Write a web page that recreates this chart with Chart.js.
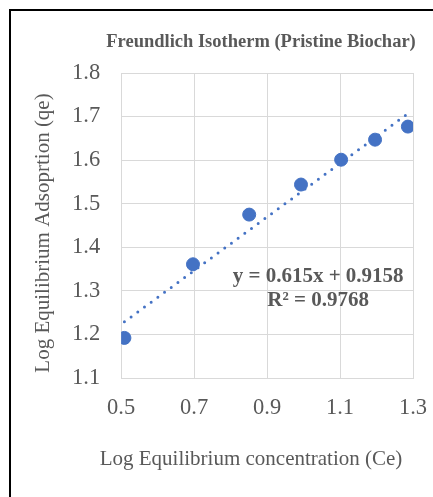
<!DOCTYPE html>
<html>
<head>
<meta charset="utf-8">
<script src="https://cdn.jsdelivr.net/npm/chart.js@4"></script>
<style>
  html, body { margin: 0; padding: 0; background: #fff; }
  #wrap { position: relative; width: 433px; height: 497px; overflow: hidden; }
  #frame { position: absolute; left: 9px; top: 9px; width: 460px; height: 520px;
           border-left: 2px solid #000; border-top: 2px solid #000; pointer-events: none; }
  canvas { position: absolute; left: 0; top: 0; }
</style>
</head>
<body>
<div id="wrap">
  <canvas id="chartCanvas" width="433" height="497"></canvas>
  <div id="frame"></div>
</div>
<script>
// values
const logCe = [0.509, 0.697, 0.851, 0.993, 1.103, 1.196, 1.286];
const logQe = [1.192, 1.361, 1.475, 1.544, 1.601, 1.647, 1.677];
// linear trendline end points (as drawn)
const trendCe = [0.509, 1.286];
const trendQe = [1.229, 1.707];
const equationLines = ['y = 0.615x + 0.9158', 'R² = 0.9768'];
const chartTitle = 'Freundlich Isotherm (Pristine Biochar)';
const xTitle = 'Log Equilibrium concentration (Ce)';
const yTitle = 'Log Equilibrium Adsoprtion (qe)';

const textColor = '#595959';
const serif = "'Liberation Serif', 'Times New Roman', serif";

// titles (wider than the plot area) + trendline label
const textLayer = {
    id: 'textLayer',
    afterDatasetsDraw(chart) {
        const {ctx, scales: {x, y}} = chart;
        ctx.save();
        ctx.fillStyle = textColor;
        ctx.textAlign = 'center';
        ctx.textBaseline = 'middle';
        ctx.font = 'bold 21px ' + serif;
        ctx.fillText(equationLines[0], x.getPixelForValue(1.04), y.getPixelForValue(1.333));
        ctx.fillText(equationLines[1], x.getPixelForValue(1.04), y.getPixelForValue(1.278));
        ctx.font = 'bold 18.5px ' + serif;
        ctx.fillText(chartTitle, 261, 42);
        ctx.font = '21px ' + serif;
        ctx.fillText(xTitle, 251, 459);
        ctx.translate(43, 233);
        ctx.rotate(-Math.PI / 2);
        ctx.fillText(yTitle, 0, 0);
        ctx.restore();
    }
};

let ctx = document.getElementById('chartCanvas').getContext('2d');
let chart = new Chart(ctx, {
    type: 'scatter',
    data: {
        datasets: [{
            type: 'line',
            data: trendCe.map((v, i) => ({x: v, y: trendQe[i]})),
            borderColor: '#4472C4',
            borderWidth: 3,
            borderDash: [0, 8.3],
            borderCapStyle: 'round',
            pointRadius: 0,
            fill: false
        }, {
            data: logCe.map((v, i) => ({x: v, y: logQe[i]})),
            backgroundColor: '#4472C4',
            borderColor: '#4472C4',
            pointRadius: 6.5,
            pointHoverRadius: 6.5
        }]
    },
    options: {
        responsive: false,
        animation: false,
        layout: { padding: { top: 73, left: 51, right: 20, bottom: 59 } },
        plugins: {
            legend: { display: false },
            tooltip: { enabled: false },
            title: { display: false }
        },
        scales: {
            x: {
                type: 'linear',
                min: 0.5, max: 1.3,
                afterFit: s => { s.paddingRight = 0; },
                ticks: { stepSize: 0.2, color: textColor, padding: 16.5,
                         font: { family: serif, size: 22.5 },
                         callback: v => v.toFixed(1) },
                grid: { color: '#d9d9d9', drawTicks: false },
                border: { color: '#d9d9d9' }
            },
            y: {
                min: 1.1, max: 1.8,
                ticks: { stepSize: 0.1, color: textColor, padding: 21,
                         font: { family: serif, size: 22.5 },
                         callback: v => v.toFixed(1) },
                grid: { color: '#d9d9d9', drawTicks: false },
                border: { color: '#d9d9d9' }
            }
        }
    },
    plugins: [textLayer]
});
</script>
</body>
</html>
